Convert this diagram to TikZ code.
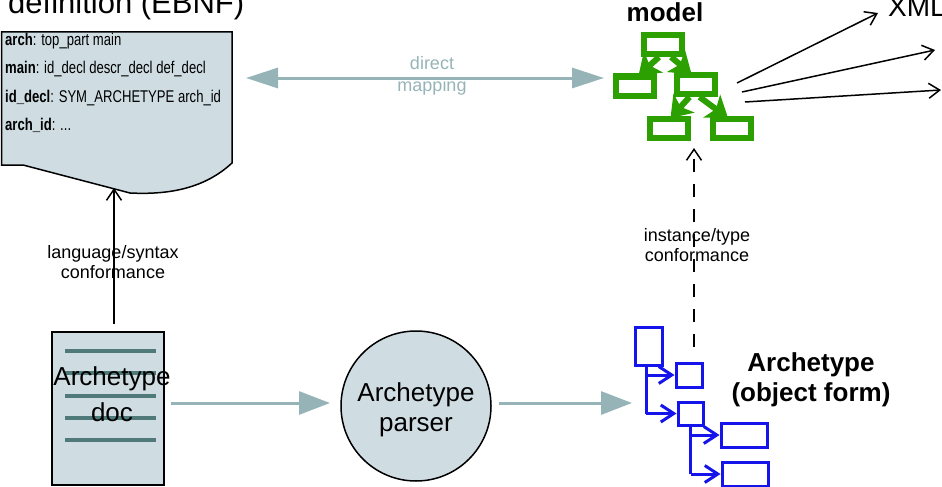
\documentclass[tikz,border=0pt]{standalone}
\usepackage{fontspec}
\setmainfont{Liberation Sans}
\newfontfamily\narrowfont[FakeStretch=0.77]{Liberation Sans}
\usetikzlibrary{arrows.meta}
\definecolor{docfill}{RGB}{207,221,227}
\definecolor{docline}{RGB}{80,122,122}
\definecolor{flowgrey}{RGB}{150,180,183}
\definecolor{objblue}{RGB}{20,20,235}
\definecolor{modgreen}{RGB}{44,160,0}
\begin{document}
\begin{tikzpicture}[x=1pt,y=-1pt,
  bigtext/.style={font=\fontsize{26}{30}\selectfont, align=center, inner sep=0pt},
  bigbold/.style={font=\fontsize{26}{30}\selectfont\bfseries, align=center, inner sep=0pt},
  smalltext/.style={font=\fontsize{18}{20}\selectfont, align=center, inner sep=0pt},
  ebnftext/.style={font=\narrowfont\fontsize{17}{18}\selectfont, anchor=base west, inner sep=0pt},
  bluebox/.style={draw=objblue, line width=3pt, rectangle, inner sep=0pt},
  greenbox/.style={draw=modgreen, line width=6pt, rectangle, inner sep=0pt, minimum width=38pt, minimum height=19pt},
  thinarrow/.style={draw=black, line width=1.5pt, -{Straight Barb[length=11pt,width=15pt]}},
  bluearrow/.style={draw=objblue, line width=3pt, -{Straight Barb[length=13pt,width=17pt]}},
  greenarrow/.style={draw=modgreen, line width=6pt, -{Stealth[length=20pt,width=28pt,inset=5pt]}},
  flowarrow/.style={draw=flowgrey, line width=3pt, -{Triangle[length=31pt,width=23pt]}},
  maparrow/.style={draw=flowgrey, line width=3pt, {Triangle[length=32pt,width=20pt]}-{Triangle[length=32pt,width=20pt]}},
  docrule/.style={draw=docline, line width=4pt}
]
\useasboundingbox (0,0) rectangle (942,487);
\clip (0,0) rectangle (942,487);

% ---------- EBNF document ----------
\draw[fill=docfill, line width=1.5pt] (1.5,32) -- (232,32) -- (232,163)
  .. controls (205,188) and (170,195) .. (130,193) -- (23,165) -- (1.5,165) -- cycle;
\node[inner sep=0pt, minimum width=230pt, minimum height=161pt] (ebnf) at (117,112) {};
\node[ebnftext] (e1) at (5,46) {\bfseries arch\mdseries: top\_part main};
\node[ebnftext] (e2) at (5,74) {\bfseries main\mdseries: id\_decl descr\_decl def\_decl};
\node[ebnftext] (e3) at (5,102) {\bfseries id\_decl\mdseries: SYM\_ARCHETYPE arch\_id};
\node[ebnftext] (e4) at (5,130) {\bfseries arch\_id\mdseries: ...};
\node[font=\fontsize{31}{34}\selectfont, anchor=base west, inner sep=0pt] (title) at (8,14) {definition (EBNF)};

% ---------- Archetype doc ----------
\node[draw=black, fill=docfill, line width=1.5pt, minimum width=112pt, minimum height=153pt, inner sep=0pt] (doc) at (108,408.5) {};
\foreach \yy in {351,373,396,418,440}{
  \draw[docrule] (65,\yy) -- (156,\yy);
}
\node[bigtext, font=\fontsize{26}{36}\selectfont] (doclabel) at (112,394) {Archetype\\doc};

% ---------- parser ----------
\node[draw=black, fill=docfill, line width=1.5pt, circle, minimum size=150pt, inner sep=0pt] (parser) at (416,406) {};
\node[bigtext] (parserlabel) at (416,410) {Archetype\\parser};

% ---------- object form tree ----------
\node[bluebox, minimum width=27pt, minimum height=38pt] (b1) at (648.5,346) {};
\node[bluebox, minimum width=26pt, minimum height=24pt] (b2) at (689,375) {};
\node[bluebox, minimum width=25pt, minimum height=23pt] (b3) at (690.5,413.5) {};
\node[bluebox, minimum width=46pt, minimum height=24pt] (b4) at (744,435) {};
\node[bluebox, minimum width=46pt, minimum height=24pt] (b5) at (745,474) {};
\draw[objblue, line width=3pt] ([xshift=-2.5pt]b1.south) -- ([xshift=-2.5pt]b1.south |- b3.west);
\draw[bluearrow] ([xshift=-2.5pt]b1.south |- b2.west) -- (b2.west);
\draw[bluearrow] ([xshift=-2.5pt]b1.south |- b3.west) -- (b3.west);
\draw[objblue, line width=3pt] (b3.south) -- (b3.south |- b5.west);
\draw[bluearrow] (b3.south |- b4.west) -- (b4.west);
\draw[bluearrow] (b3.south |- b5.west) -- (b5.west);
\node[bigbold] (objlabel) at (811,380) {Archetype\\(object form)};

% ---------- model tree ----------
\node[greenbox] (gA) at (663,44.5) {};
\node[greenbox] (gB) at (634.5,86) {};
\node[greenbox] (gC) at (695.5,84.5) {};
\node[greenbox] (gD) at (668.5,128.5) {};
\node[greenbox] (gE) at (732,128.5) {};
\draw[greenarrow] ([xshift=-4pt]gA.south) -- ([xshift=4pt,yshift=-2pt]gB.north);
\draw[greenarrow] ([xshift=8pt]gA.south) -- ([xshift=-4pt,yshift=-2pt]gC.north);
\draw[greenarrow] ([xshift=-6pt]gC.south) -- ([xshift=2pt,yshift=-2pt]gD.north);
\draw[greenarrow] ([xshift=4pt]gC.south) -- ([xshift=-4pt,yshift=-2pt]gE.north);
\node[font=\fontsize{26}{30}\selectfont\bfseries, anchor=base, inner sep=0pt] (modellabel) at (665,22) {model};

% ---------- XML outputs ----------
\coordinate (x1s) at (737,83);
\coordinate (x2s) at (742,92);
\coordinate (x3s) at (745,102);
\coordinate (x1e) at (878,13);
\coordinate (x2e) at (935,50);
\coordinate (x3e) at (941,90);
\draw[thinarrow] (x1s) -- (x1e);
\draw[thinarrow] (x2s) -- (x2e);
\draw[thinarrow] (x3s) -- (x3e);
\node[font=\fontsize{28}{32}\selectfont, anchor=base west, inner sep=0pt] (xml) at (888,17) {XML};

% ---------- connectors ----------
\coordinate (mapL) at (246,78);
\coordinate (mapR) at (604,78);
\draw[maparrow] (mapL) -- (mapR);
\node[smalltext, text=flowgrey, font=\fontsize{18}{22}\selectfont] (maplabel) at (432,76) {direct\\mapping};

\coordinate (synEnd) at (114,188);
\draw[thinarrow, shorten <=7pt] (doc.north -| synEnd) -- (synEnd);
\node[smalltext] (synlabel) at (113,262) {language/syntax\\conformance};

\coordinate (docOut) at (171,403);
\coordinate (parserIn) at (330,403);
\draw[flowarrow] (docOut) -- (parserIn);
\coordinate (parserOut) at (499,403);
\coordinate (objIn) at (632,403);
\draw[flowarrow] (parserOut) -- (objIn);

\coordinate (dashS) at (694,347);
\coordinate (dashE) at (694,148);
\draw[thinarrow, dash pattern=on 13pt off 12pt] (dashS) -- (dashE);
\node[smalltext] (instlabel) at (697,245) {instance/type\\conformance};
\end{tikzpicture}
\end{document}
